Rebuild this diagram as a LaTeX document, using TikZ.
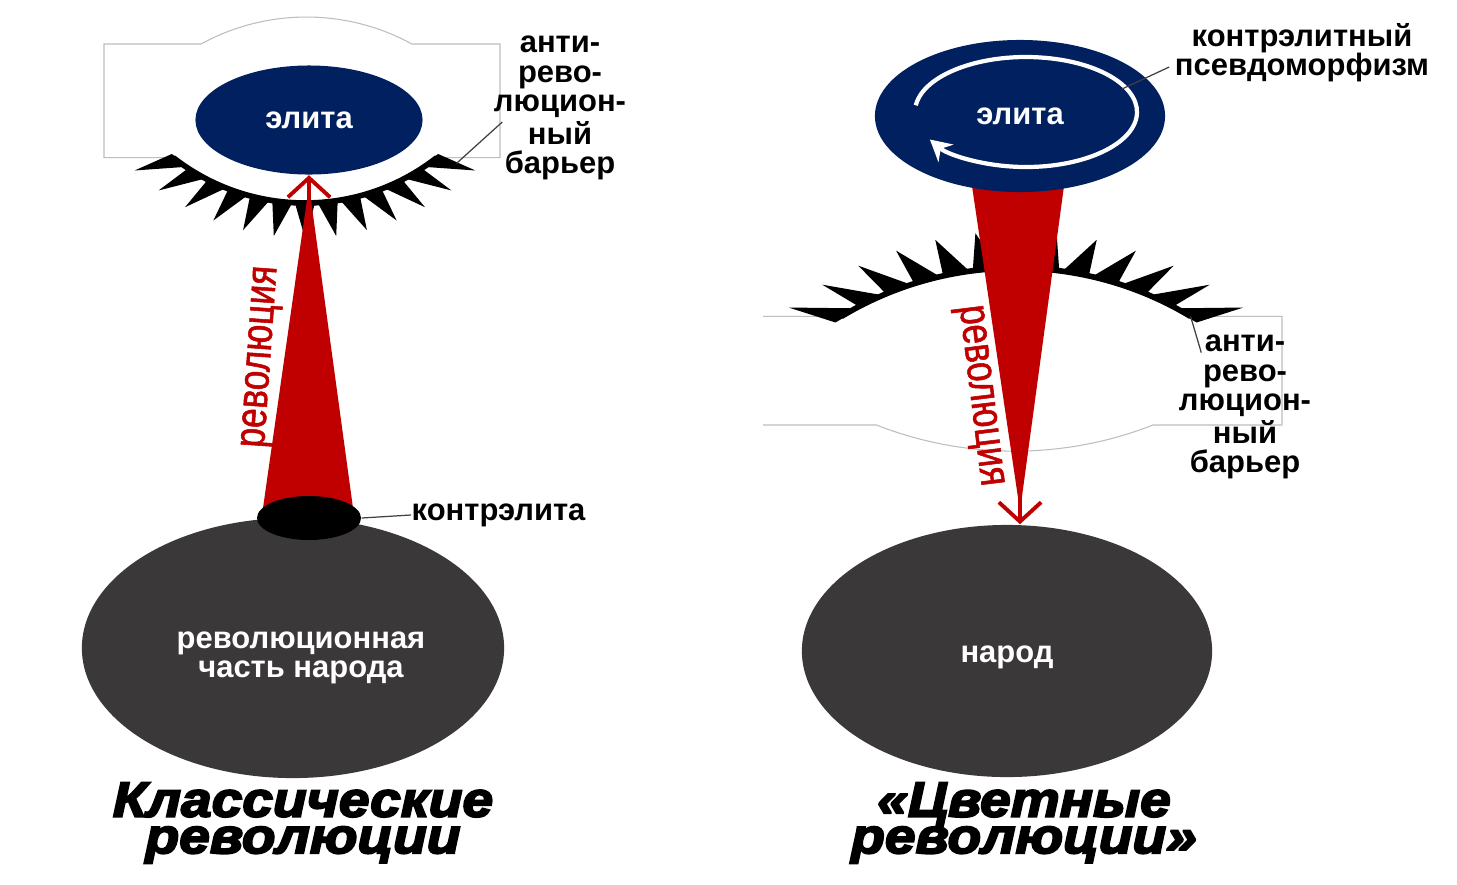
\documentclass[tikz,border=0pt]{standalone}
\usepackage{fontspec}
\setmainfont{Liberation Sans}
\newfontfamily\titlefont[FakeBold=4,FakeStretch=1.12]{Liberation Sans Bold Italic}
\newfontfamily\revfont[FakeStretch=0.8,FakeBold=1.2]{Liberation Sans}
\usetikzlibrary{shapes,arrows.meta,positioning,calc,backgrounds}
\definecolor{elitablue}{RGB}{0,32,96}
\definecolor{revred}{RGB}{192,0,0}
\definecolor{narodgray}{RGB}{58,56,56}
\definecolor{shellgray}{RGB}{190,190,190}

\begin{document}
\begin{tikzpicture}[x=0.01cm, y=0.01cm,
    shell/.style={draw=shellgray, line width=0.3pt},
    band/.style={line width=1.6pt},
    tooth/.style={fill=black},
    elitenode/.style={ellipse, fill=elitablue, text=white, inner sep=0pt, font=\bfseries\fontsize{8.8}{8.3}\selectfont},
    narodnode/.style={ellipse, fill=narodgray, inner sep=0pt},
    tag/.style={inner sep=0pt, align=center, font=\bfseries\fontsize{8.8}{8.3}\selectfont},
    revtext/.style={text=revred, inner sep=0pt, font=\revfont\fontsize{12.5}{14}\selectfont},
    cone/.style={fill=revred},
    chevron/.style={draw=revred, line width=1.1pt, -{Straight Barb[length=5.5pt,width=12pt]}},
    leader/.style={draw=black!75, line width=0.35pt},
    spin/.style={draw=white, line width=1.2pt, -{Stealth[length=6pt,width=6.5pt]}},
    heading/.style={inner sep=0pt, align=center, font=\titlefont\fontsize{14}{10.4}\selectfont}]

    % Blocks
    \node[narodnode, minimum width=4.22cm, minimum height=2.6cm] (people1) at (293,-648) {};
    \node[ellipse, fill=black, inner sep=0pt, minimum width=1.04cm, minimum height=0.44cm] (kontr1) at (309,-518) {};
    \node[elitenode, minimum width=2.27cm, minimum height=1.09cm] (elite1) at (309,-120) {элита};

    \node[narodnode, minimum width=4.1cm, minimum height=2.52cm] (people2) at (1007,-651) {};
    \node[elitenode, minimum width=2.9cm, minimum height=1.52cm] (elite2) at (1020,-116) {элита};
    \coordinate (tip2) at (elite2.south |- people2.north);
    \coordinate (spinc) at (1026,-112);
    \coordinate (loopmark) at (1122,-89);

    \begin{pgfonlayer}{background}
        \fill[white] (0,0) rectangle (1457,-884);
        % Shells
        \draw[shell] (104,-44) -- (201,-44) arc[start angle=118.7, end angle=61.3, radius=219.6]
            -- (500,-44) -- (500,-157.6) -- (436.8,-157.6) arc[start angle=308, end angle=232, radius=214]
            -- (104,-157.6) -- cycle;
        \draw[shell] (763,-316.4) -- (841.4,-316.4) arc[start angle=121, end angle=59, radius=339]
            -- (1282,-316.4) -- (1282,-425) -- (1153,-425) arc[start angle=291.4, end angle=248.6, radius=379]
            -- (763,-425);
        % Barriers
        \begin{scope}[shift={(305,11)}]
            \draw[band] (232:214) arc[start angle=232, end angle=308, radius=214];
            \foreach \j in {-6,...,6}
                \fill[tooth] ({270+6*\j-2.9}:212) -- ({270+7.2*\j}:249) -- ({270+6*\j+2.9}:212) -- cycle;
            \coordinate (bar1end) at (311:231);
        \end{scope}
        \begin{scope}[shift={(1016,-607)}]
            \draw[band] (59:339) arc[start angle=59, end angle=121, radius=339];
            \foreach \j in {-6,...,6}
                \fill[tooth] ({90+5*\j-2.4}:337) -- ({90+6.2*\j}:376) -- ({90+5*\j+2.4}:337) -- cycle;
            \coordinate (bar2end) at (59:339);
        \end{scope}
        % Cones
        \fill[cone] ($(kontr1.center)+(-46,10)$) -- ($(elite1.south)+(0,-10)$) -- ($(kontr1.center)+(44,10)$) -- cycle;
        \fill[cone] ($(elite2.center)+(-48,-70)$) -- ($(tip2)+(0,13)$) -- ($(elite2.center)+(44,-70)$) -- cycle;
    \end{pgfonlayer}

    % Connections
    \draw[chevron] (kontr1.north) -- (elite1.south);
    \draw[chevron] (elite2.south) -- (tip2);
    \draw[spin] ($(spinc)+(173:111 and 55)$) arc[start angle=173, end angle=-150, x radius=111, y radius=55];

    % Labels
    \node[tag, text=white] (people1lbl) at (301,-658) {революционная\\часть народа};
    \node[tag, text=white] (people2lbl) at (1007,-657) {народ};
    \node[tag, anchor=west] (kontrlbl) at (411,-515) {контрэлита};
    \node[tag] (bar1lbl) at (560,-108) {анти-\\рево-\\люцион-\\ный\\барьер};
    \node[tag] (bar2lbl) at (1245,-407) {анти-\\рево-\\люцион-\\ный\\барьер};
    \node[tag] (pseudo) at (1302,-53) {контрэлитный\\псевдоморфизм};
    \node[revtext, rotate=86] (rev1) at (263,-357) {революция};
    \node[revtext, rotate=-83] (rev2) at (978,-396) {революция};

    \draw[leader] (kontr1.east) -- (kontrlbl.west);
    \draw[leader] (bar1end) -- ($(bar1lbl.west)+(9,-14)$);
    \draw[leader] (bar2end) -- ($(bar2lbl.north west)+(23,-18)$);
    \draw[leader] (loopmark) -- ($(pseudo.west)+(-5,-14)$);

    % Titles
    \node[heading, anchor=north] (title1) at (303,-782) {Классические\\революции};
    \node[heading, anchor=north] (title2) at (1024,-782) {«Цветные\\революции»};
\end{tikzpicture}
\end{document}
